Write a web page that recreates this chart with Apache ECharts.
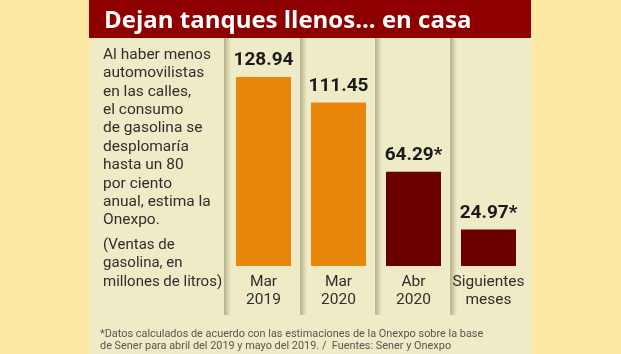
<!DOCTYPE html>
<html>
<head>
<meta charset="utf-8">
<script src="https://cdn.jsdelivr.net/npm/echarts@6/dist/echarts.min.js"></script>
<style>
  html, body { margin: 0; padding: 0; background: #fde9a3; }
  #chart { width: 621px; height: 354px; }
</style>
</head>
<body>
<div id="chart"></div>
<script>
// categorias y valores (millones de litros)
const categories = ['Mar\n2019', 'Mar\n2020', 'Abr\n2020', 'Siguientes\nmeses']
const values = [128.94, 111.45, 64.29, 24.97]
const estimated = [false, false, true, true]
const barColors = ['#e8870b', '#e8870b', '#6a0000', '#6a0000']

const titleText = 'Dejan tanques llenos... en casa'
const introLines = ['Al haber menos', 'automovilistas', 'en las calles,', 'el consumo',
  'de gasolina se', 'desplomaría', 'hasta un 80', 'por ciento', 'anual, estima la', 'Onexpo.']
const unitLines = ['(Ventas de', 'gasolina, en', 'millones de litros)']
const noteLines = ['*Datos calculados de acuerdo con las estimaciones de la Onexpo sobre la base',
  'de Sener para abril del 2019 y mayo del 2019. /  Fuentes: Sener y Onexpo']

const font = 'Roboto, "Noto Sans", sans-serif'

let graphics = []
// panel
graphics.push({ type: 'rect', shape: { x: 89, y: 0, width: 442, height: 354 }, style: { fill: '#eeebc6' } })
graphics.push({ type: 'rect', shape: { x: 89, y: 0, width: 442, height: 38 }, style: { fill: '#8e0000' } })
graphics.push({
  type: 'text', x: 104, y: 21,
  style: { text: titleText, fill: '#fff', font: 'bold 24px "Open Sans", ' + font, verticalAlign: 'middle' }
})
// separadores de columnas
;[224, 300, 375, 450].forEach(x => {
  graphics.push({
    type: 'rect', shape: { x: x, y: 38, width: 7, height: 277 },
    style: {
      fill: new echarts.graphic.LinearGradient(0, 0, 1, 0, [
        { offset: 0, color: 'rgba(110,105,70,0.45)' },
        { offset: 1, color: 'rgba(110,105,70,0)' }
      ])
    }
  })
})
introLines.forEach((t, i) => {
  graphics.push({
    type: 'text', x: 103, y: 55 + i * 18.4,
    style: { text: t, fill: '#2e2e2e', font: '15.5px ' + font, verticalAlign: 'middle' }
  })
})
unitLines.forEach((t, i) => {
  graphics.push({
    type: 'text', x: 103, y: 245 + i * 18.4,
    style: { text: t, fill: '#2e2e2e', font: '15px ' + font, verticalAlign: 'middle' }
  })
})
noteLines.forEach((t, i) => {
  graphics.push({
    type: 'text', x: 100, y: 334 + i * 12,
    style: { text: t, fill: '#555', font: '10.9px ' + font, verticalAlign: 'middle' }
  })
})

let myChart = echarts.init(document.getElementById('chart'))
let option = {
  backgroundColor: '#fde9a3',
  animation: false,
  graphic: graphics,
  grid: { left: 226, width: 300, top: 46, height: 220 },
  xAxis: {
    type: 'category',
    data: categories,
    axisLine: { show: false },
    axisTick: { show: false },
    axisLabel: {
      margin: 7,
      interval: 0,
      color: '#2e2e2e',
      fontFamily: font,
      fontSize: 15.5,
      lineHeight: 18
    }
  },
  yAxis: {
    type: 'value',
    min: 0,
    max: 150,
    show: false,
    splitLine: { show: false }
  },
  series: [{
    type: 'bar',
    barWidth: 55,
    data: values.map((v, i) => ({ value: v, itemStyle: { color: barColors[i] } })),
    label: {
      show: true,
      position: 'top',
      distance: 7,
      color: '#1a1a1a',
      fontFamily: font,
      fontWeight: 'bold',
      fontSize: 19,
      formatter: p => p.value.toFixed(2) + (estimated[p.dataIndex] ? '*' : '')
    }
  }]
}
myChart.setOption(option)
</script>
</body>
</html>
